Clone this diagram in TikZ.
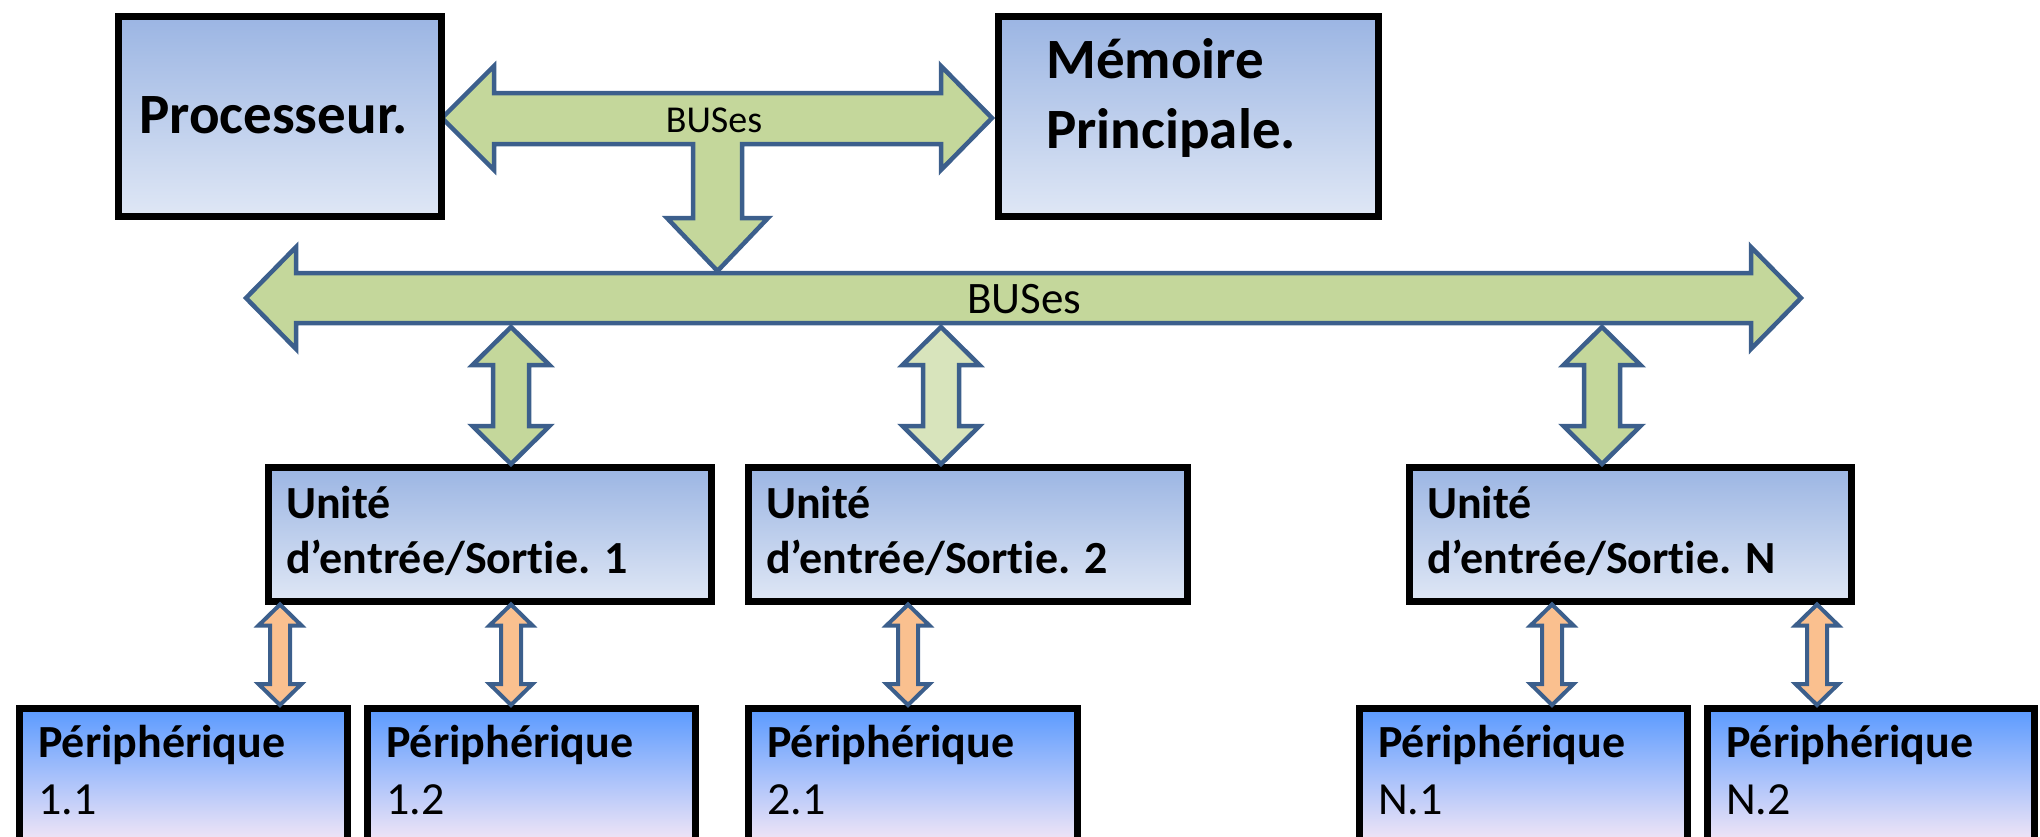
\documentclass[tikz,border=0pt]{standalone}
\usepackage{fontspec}
\setmainfont{Carlito}[Ligatures=NoCommon]
\usetikzlibrary{calc}

\definecolor{boxtop}{HTML}{9BB5E3}
\definecolor{boxbot}{HTML}{DFE7F5}
\definecolor{pertop}{HTML}{5A9AFF}
\definecolor{permid}{HTML}{8DC3FC}
\definecolor{perbot}{HTML}{F2E6F6}
\definecolor{busfill}{HTML}{C4D79B}
\definecolor{buslight}{HTML}{D8E4BC}
\definecolor{busline}{HTML}{3C5F8C}
\definecolor{linkfill}{HTML}{FAC08F}

\tikzset{
  unitbox/.style={rectangle, draw=black, line width=6.5pt, inner sep=0pt,
    anchor=north west, top color=boxtop, bottom color=boxbot},
  perbox/.style={rectangle, draw=black, line width=6.5pt, inner sep=0pt,
    anchor=north west, top color=pertop, middle color=permid, bottom color=perbot},
  busarrow/.style={draw=busline, line width=4.5pt, fill=busfill},
  buslightarrow/.style={draw=busline, line width=4.5pt, fill=buslight},
  linkarrow/.style={draw=busline, line width=4pt, fill=linkfill},
  bigtxt/.style={inner sep=0pt, anchor=base west, font=\fontsize{57}{68}\selectfont\bfseries},
  midtxt/.style={inner sep=0pt, anchor=base west, font=\fontsize{46}{55}\selectfont\bfseries},
  numtxt/.style={inner sep=0pt, anchor=base west, font=\fontsize{46}{55}\selectfont},
  bustxt/.style={inner sep=0pt, anchor=base},
}

% vertical double block arrow: style, top tip, bottom tip, shaft half width, head half width, head length
\newcommand\vdarrow[6]{%
  \draw[#1] let \p1=(#2), \p2=(#3) in
    (\x1,\y1) -- (\x1+#5,\y1-#6) -- (\x1+#4,\y1-#6) -- (\x1+#4,\y2+#6)
    -- (\x1+#5,\y2+#6) -- (\x1,\y2) -- (\x1-#5,\y2+#6) -- (\x1-#4,\y2+#6)
    -- (\x1-#4,\y1-#6) -- (\x1-#5,\y1-#6) -- cycle;}

\begin{document}
\begin{tikzpicture}[x=1pt,y=1pt]
\useasboundingbox (0,0) rectangle (2040,-836);
\clip (0,0) rectangle (2040,-836);

% upper bus between processor and memory, with its branch down to the system bus
\draw[busarrow] (442,-118) -- (494,-66) -- (494,-93) -- (941,-93) -- (941,-66)
  -- (992,-118) -- (941,-170) -- (941,-144) -- (742,-144) -- (742,-218)
  -- (768,-218) -- (717.5,-271) -- (667,-218) -- (693,-218) -- (693,-144)
  -- (494,-144) -- (494,-170) -- cycle;
\node[bustxt, font=\fontsize{38}{46}\selectfont] (bustop) at (714,-132) {BUSes};

% system bus
\draw[busarrow] (246,-298) -- (296,-247) -- (296,-273) -- (1751,-273) -- (1751,-247)
  -- (1801,-298) -- (1751,-349) -- (1751,-323) -- (296,-323) -- (296,-349) -- cycle;
\node[bustxt, font=\fontsize{45}{54}\selectfont] (busmain) at (1024,-313) {BUSes};

% boxes
\node[unitbox, minimum width=323pt, minimum height=200pt] (proc) at (115,-13) {};
\node[unitbox, minimum width=380pt, minimum height=200pt] (mem) at (995,-13) {};
\node[unitbox, minimum width=443pt, minimum height=134pt] (io1) at (265,-464) {};
\node[unitbox, minimum width=439pt, minimum height=134pt] (io2) at (745,-464) {};
\node[unitbox, minimum width=442pt, minimum height=134pt] (ioN) at (1406,-464) {};
\node[perbox, minimum width=328pt, minimum height=134pt] (p11) at (16,-705) {};
\node[perbox, minimum width=328pt, minimum height=134pt] (p12) at (364,-705) {};
\node[perbox, minimum width=329pt, minimum height=134pt] (p21) at (745,-705) {};
\node[perbox, minimum width=328pt, minimum height=134pt] (pN1) at (1356,-705) {};
\node[perbox, minimum width=327pt, minimum height=134pt] (pN2) at (1704,-705) {};

% links from the system bus to the I/O units
\vdarrow{busarrow}{511,-327}{io1.north -| 511,0}{18pt}{38.5pt}{38pt}
\vdarrow{buslightarrow}{941,-327}{io2.north -| 941,0}{18pt}{38.5pt}{38pt}
\vdarrow{busarrow}{1602,-327}{ioN.north -| 1602,0}{18pt}{38.5pt}{38pt}

% links from the I/O units to the peripherals
\vdarrow{linkarrow}{io1.south -| 280,0}{p11.north -| 280,0}{10pt}{21.5pt}{21pt}
\vdarrow{linkarrow}{io1.south -| 511,0}{p12.north -| 511,0}{10pt}{21.5pt}{21pt}
\vdarrow{linkarrow}{io2.south -| 908,0}{p21.north -| 908,0}{10pt}{21.5pt}{21pt}
\vdarrow{linkarrow}{ioN.south -| 1552,0}{pN1.north -| 1552,0}{10pt}{21.5pt}{21pt}
\vdarrow{linkarrow}{ioN.south -| 1817,0}{pN2.north -| 1817,0}{10pt}{21.5pt}{21pt}

% labels
\node[bigtxt] (tproc) at (139,-133) {Processeur.};
\node[bigtxt] (tmem1) at (1046,-78) {Mémoire};
\node[bigtxt] (tmem2) at (1046,-148) {Principale.};

\node[midtxt] (tio1a) at (286,-518) {Unité};
\node[midtxt] (tio1b) at (286,-573) {d’entrée/Sortie. 1};
\node[midtxt] (tio2a) at (766,-518) {Unité};
\node[midtxt] (tio2b) at (766,-573) {d’entrée/Sortie. 2};
\node[midtxt] (tioNa) at (1427,-518) {Unité};
\node[midtxt] (tioNb) at (1427,-573) {d’entrée/Sortie. N};

\node[midtxt] (tp11a) at (38,-757) {Périphérique};
\node[numtxt] (tp11b) at (38,-814) {1.1};
\node[midtxt] (tp12a) at (386,-757) {Périphérique};
\node[numtxt] (tp12b) at (386,-814) {1.2};
\node[midtxt] (tp21a) at (767,-757) {Périphérique};
\node[numtxt] (tp21b) at (767,-814) {2.1};
\node[midtxt] (tpN1a) at (1378,-757) {Périphérique};
\node[numtxt] (tpN1b) at (1378,-814) {N.1};
\node[midtxt] (tpN2a) at (1726,-757) {Périphérique};
\node[numtxt] (tpN2b) at (1726,-814) {N.2};
\end{tikzpicture}
\end{document}
